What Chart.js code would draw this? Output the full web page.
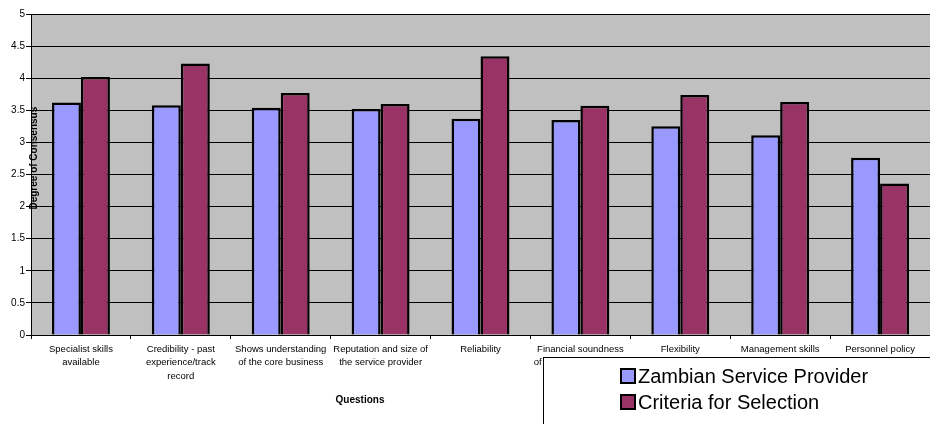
<!DOCTYPE html>
<html>
<head>
<meta charset="utf-8">
<script src="https://cdn.jsdelivr.net/npm/chart.js@4/dist/chart.umd.min.js"></script>
<style>
  html, body { margin: 0; padding: 0; background: #fff; overflow: hidden; }
  #wrap { position: relative; width: 930px; height: 424px; }
</style>
</head>
<body>
<div id="wrap"><canvas id="chart"></canvas></div>
<script>
// Survey questions (category axis), wrapped as they appear under the bars
const categories = [
  ['Specialist skills', 'available'],
  ['Credibility - past', 'experience/track', 'record'],
  ['Shows understanding', 'of the core business'],
  ['Reputation and size of', 'the service provider'],
  ['Reliability'],
  ['Financial soundness', 'of the service provider'],
  ['Flexibility'],
  ['Management skills'],
  ['Personnel policy']
];

// Mean degree of consensus per question
const zambianProvider   = [3.62, 3.58, 3.54, 3.52, 3.37, 3.35, 3.25, 3.11, 2.76];
const selectionCriteria = [4.02, 4.23, 3.77, 3.60, 4.34, 3.57, 3.74, 3.63, 2.36];

const seriesNames  = ['Zambian Service Provider', 'Criteria for Selection'];
const seriesColors = ['#9999FF', '#993366'];

const yTicks      = [0, 0.5, 1, 1.5, 2, 2.5, 3, 3.5, 4, 4.5, 5];
const yTickLabels = ['0', '0.5', '1', '1.5', '2', '2.5', '3', '3.5', '4', '4.5', '5'];
const yTitle = 'Degree of Consensus';
const xTitle = 'Questions';

const FONT = "'Liberation Sans', Arial, Helvetica, sans-serif";

// Grey plot area behind grid and bars
const plotBackground = {
  id: 'plotBackground',
  beforeDraw(chart) {
    const { ctx, chartArea: a } = chart;
    ctx.save();
    ctx.fillStyle = '#C0C0C0';
    ctx.fillRect(a.left, a.top, a.right - a.left, a.bottom - a.top);
    ctx.restore();
  }
};

// Axis titles placed the way the spreadsheet laid them out
const axisTitles = {
  id: 'axisTitles',
  afterDraw(chart) {
    const { ctx, chartArea: a } = chart;
    ctx.save();
    ctx.fillStyle = '#000';
    ctx.font = 'bold 10px ' + FONT;
    ctx.textAlign = 'center';
    ctx.textBaseline = 'middle';
    ctx.save();
    ctx.translate(a.left + 3, a.top + (a.bottom - a.top) * 0.449);
    ctx.rotate(-Math.PI / 2);
    ctx.fillText(yTitle, 0, 0);
    ctx.restore();
    ctx.fillText(xTitle, a.left + (a.right - a.left) * 0.366, a.bottom + 65);
    ctx.restore();
  }
};

// Boxed legend in the lower right corner, drawn over the axis labels
const boxLegend = {
  id: 'boxLegend',
  afterDraw(chart) {
    const { ctx } = chart;
    const bx = 543.5, by = 357.5;
    ctx.save();
    ctx.fillStyle = '#fff';
    ctx.fillRect(bx, by, chart.width - bx + 5, chart.height - by + 5);
    ctx.strokeStyle = '#000';
    ctx.lineWidth = 1;
    ctx.strokeRect(bx, by, chart.width - bx + 5, chart.height - by + 5);
    ctx.font = '20px ' + FONT;
    ctx.textBaseline = 'middle';
    ctx.textAlign = 'left';
    chart.data.datasets.forEach((ds, i) => {
      const cy = 376 + i * 26;
      ctx.fillStyle = ds.backgroundColor;
      ctx.fillRect(621, cy - 7, 14, 14);
      ctx.lineWidth = 2;
      ctx.strokeStyle = '#000';
      ctx.strokeRect(621, cy - 7, 14, 14);
      ctx.fillStyle = '#000';
      ctx.fillText(ds.label, 638, cy + 1);
    });
    ctx.restore();
  }
};

new Chart(document.getElementById('chart'), {
  type: 'bar',
  data: {
    labels: categories,
    datasets: [
      { label: seriesNames[0], data: zambianProvider, backgroundColor: seriesColors[0] },
      { label: seriesNames[1], data: selectionCriteria, backgroundColor: seriesColors[1] }
    ]
  },
  options: {
    responsive: true,
    maintainAspectRatio: false,
    animation: false,
    devicePixelRatio: 1,
    layout: { padding: { top: 14, right: 0, bottom: 0, left: 0 } },
    datasets: {
      bar: {
        categoryPercentage: 0.58,
        barPercentage: 1.0,
        borderColor: '#000',
        borderWidth: 2.5
      }
    },
    plugins: {
      legend: { display: false },
      tooltip: { enabled: false }
    },
    scales: {
      x: {
        afterFit(scale) { scale.height = 89; },
        grid: {
          offset: true,
          drawOnChartArea: false,
          drawTicks: true,
          tickLength: 4,
          color: '#000'
        },
        border: { display: true, color: '#000', width: 1 },
        ticks: {
          autoSkip: false,
          maxRotation: 0,
          minRotation: 0,
          padding: 3,
          color: '#000',
          font: { family: FONT, size: 9.5, lineHeight: 1.45 }
        }
      },
      y: {
        min: 0,
        max: 5,
        afterFit(scale) { scale.width = 31; },
        afterBuildTicks(scale) { scale.ticks = yTicks.map(v => ({ value: v })); },
        grid: {
          color: '#000',
          lineWidth: 1,
          drawTicks: true,
          tickLength: 5
        },
        border: { display: true, color: '#000', width: 1 },
        ticks: {
          padding: 1,
          color: '#000',
          font: { family: FONT, size: 10 },
          callback: (value, index) => yTickLabels[index]
        }
      }
    }
  },
  plugins: [plotBackground, axisTitles, boxLegend]
});
</script>
</body>
</html>
